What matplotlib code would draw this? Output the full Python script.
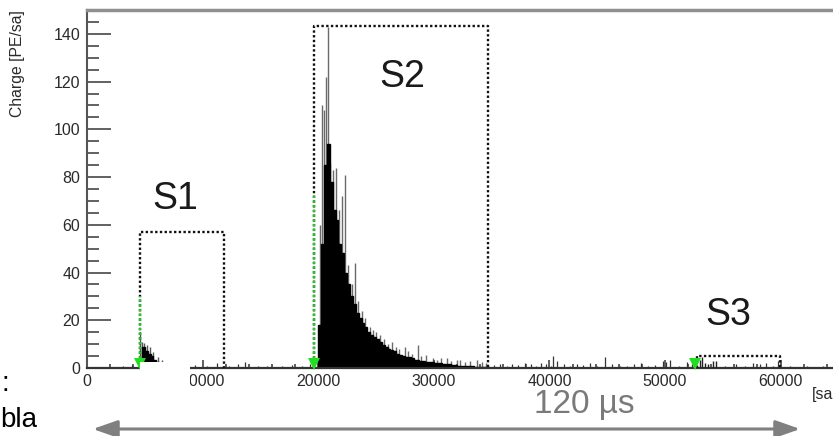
import matplotlib
matplotlib.use("Agg")
import matplotlib.pyplot as plt
from matplotlib.patches import Rectangle, FancyArrowPatch
import numpy as np

plt.rcParams['font.family'] = ['Liberation Sans', 'DejaVu Sans']

# ---------------- data ----------------
# S2 black envelope (bin starts, 250-sample bins)
s2_bin_start = 19750
s2_bin_width = 250
s2_env = [0, 18, 52, 85, 94, 78, 66, 62, 52, 48, 40, 35, 30, 27, 23, 21, 19, 17,
          15, 14, 13, 12, 11, 9.5, 9, 8, 7.5, 7, 6, 5.5, 5, 4.5, 4.5, 4, 3.5, 3.5,
          3, 3, 2.5, 2.5, 2.5, 2, 2, 2, 1.5, 1.5, 1.5, 1.2, 1.2, 1, 1, 1, 0.8,
          0.8, 0.7, 0.6, 0.6, 0.5, 0.5, 0.4, 0]
# S2 grey spikes
s2_spike_x = [20150, 20330, 20500, 20700, 20850, 21020, 21280, 21540, 21800, 22050,
              22300, 22580, 22900, 23180, 23450, 23790, 24050, 24480, 24700, 25000,
              25350, 25700, 26000, 26380, 26700, 27000, 27500, 27800, 28100, 28630,
              28900, 29300, 29930, 30300, 30600, 31140, 31500, 32000, 32260, 32700,
              33100, 33740, 34200, 34500]
s2_spike_y = [60, 110, 108, 122, 143, 86, 83, 84, 66, 72,
              81, 43, 35, 44, 28, 24, 21, 17, 16, 15,
              14, 12, 10, 11, 9, 8, 9, 7, 6, 9.6,
              5, 5.5, 4, 3.5, 4, 4, 3, 3.5, 3.4, 2.5,
              3, 3.4, 2.5, 2]
# S1 envelope and spikes
s1_bin_start = 4500
s1_bin_width = 250
s1_env = [0, 9, 7, 6, 5, 3.5, 2.5, 1.5, 1, 0]
s1_spike_x = [4600, 4750, 4900, 5150, 5450, 5750, 6100, 6500, 6900]
s1_spike_y = [15, 11, 10.5, 9.6, 8.8, 6.7, 4.6, 3.4, 2.5]
# S3 spikes
s3_spike_x = [52700, 53000, 53200, 53450, 53700, 54150, 54400]
s3_spike_y = [2.5, 3.5, 4.6, 2.0, 1.5, 3.0, 3.0]
# baseline noise spikes
noise_x = [1500, 3100, 3900, 7300, 8200, 9350, 10400, 11250, 12300, 13070,
           13670, 14800, 15600, 16900, 17700, 18600, 19300, 35200, 35700, 36300,
           36800, 37300, 37900, 38400, 38800, 39300, 39700, 40100, 40300, 40700,
           41300, 41800, 42400, 42900, 43500, 44100, 44800, 45400, 46100, 46700,
           47300, 47900, 48500, 49100, 49800, 50100, 50400, 51200, 51900, 52300,
           55200, 56100, 56900, 57600, 58200, 58700, 59300, 59800, 60800, 62300,
           63700]
noise_y = [0.6, 0.8, 1.2, 1.0, 0.8, 1.4, 0.7, 2.0, 0.9, 1.5,
           2.5, 0.8, 1.0, 0.7, 1.1, 0.9, 1.6, 1.2, 1.5, 1.0,
           1.8, 1.3, 2.0, 1.5, 1.0, 2.2, 1.7, 1.0, 5.0, 3.0,
           1.5, 1.0, 1.8, 1.2, 2.0, 1.0, 4.6, 1.5, 1.0, 0.8,
           1.6, 2.2, 1.0, 1.3, 3.0, 2.5, 3.2, 1.0, 2.5, 1.5,
           1.0, 1.5, 1.0, 2.0, 1.5, 2.2, 1.0, 3.0, 0.8, 1.0,
           1.0]

# signal windows
win_labels = ["S1", "S2", "S3"]
win_x0 = [4600, 19600, 52800]
win_x1 = [11850, 34700, 59950]
win_top = [57, 143.3, 5]
label_x = [7600, 27300, 55450]
label_y = [70.8, 122, 22.2]
green_x = [4600, 19600, 52600]
green_top = [30, 73, 3]

xticks = [0, 10000, 20000, 30000, 40000, 50000, 60000]
yticks = [0, 20, 40, 60, 80, 100, 120, 140]

# ---------------- figure ----------------
W, H = 833, 436
fig = plt.figure(figsize=(W / 100, H / 100), dpi=100)
left_px, bottom_px, top_px = 87, 368, 10
ax = fig.add_axes([left_px / W, (H - bottom_px) / H, (W - left_px) / W,
                   (bottom_px - top_px) / H])
ax.set_xlim(0, (W - left_px) / 115.6 * 10000)
ax.set_ylim(0, 150)

# grey spikes drawn first so the black body covers their lower part
ax.vlines(s2_spike_x, 0, s2_spike_y, color='#6a6a6a', lw=1.0, zorder=1.5)
ax.vlines(s1_spike_x, 0, s1_spike_y, color='#555555', lw=1.0, zorder=1.5)
# histogram bodies (single filled step paths)
edges2 = s2_bin_start + s2_bin_width * np.arange(len(s2_env) + 1)
ax.stairs(s2_env, edges2, fill=True, color='black', lw=0, zorder=2)
ax.stairs(s2_env, edges2, fill=False, color='black', lw=1.0, zorder=2)
edges1 = s1_bin_start + s1_bin_width * np.arange(len(s1_env) + 1)
ax.stairs(s1_env, edges1, fill=True, color='black', lw=0, zorder=2)
ax.stairs(s1_env, edges1, fill=False, color='black', lw=1.0, zorder=2)
ax.vlines(s3_spike_x, 0, s3_spike_y, color='#222222', lw=1.0, zorder=3)
ax.vlines(noise_x, 0, noise_y, color='#333333', lw=0.9, zorder=3)

# windows
for lab, x0, x1, t, lx, ly in zip(win_labels, win_x0, win_x1, win_top, label_x, label_y):
    ax.plot([x0, x0, x1, x1], [0, t, t, 0], color='#111111', lw=1.7,
            ls=(0, (1, 1)), zorder=4)
    ax.text(lx, ly, lab, fontsize=27, color='#1a1a1a', ha='center', va='center')
for gx, gt in zip(green_x, green_top):
    ax.plot([gx, gx], [0, gt], color='#22cc22', lw=1.7, ls=(0, (1, 1)), zorder=5)
    ax.plot([gx], [1.8], marker='v', color='#22dd22', ms=8, mew=0, zorder=6,
            clip_on=False)

# axes style
ax.spines['right'].set_visible(False)
ax.spines['top'].set_color('#909090')
ax.spines['top'].set_linewidth(2.5)
ax.spines['left'].set_color('#555555')
ax.spines['left'].set_linewidth(1.5)
ax.spines['bottom'].set_color('#333333')
ax.spines['bottom'].set_linewidth(1.6)

ax.set_xticks(xticks)
ax.set_xticklabels([str(v) for v in xticks])
ax.set_xticks(np.arange(0, 66000, 2000), minor=True)
ax.set_yticks(yticks)
ax.set_yticklabels([str(v) for v in yticks])
ax.set_yticks(np.arange(0, 151, 5), minor=True)
ax.tick_params(axis='y', which='major', direction='in', length=17, width=1.3,
               color='#555555', labelsize=11.5, labelcolor='#2a2a2a', pad=5)
ax.tick_params(axis='y', which='minor', direction='in', length=8.5, width=1.3,
               color='#555555')
ax.tick_params(axis='x', which='major', direction='in', length=5.8, width=1.2,
               color='#444444', labelsize=11.5, labelcolor='#2a2a2a', pad=4.3)
ax.tick_params(axis='x', which='minor', direction='in', length=3.2, width=1.2,
               color='#444444')
ax.tick_params(top=False, right=False)

# y label
fig.text(18 / W, 1 - 10 / H, 'Charge [PE/sa]', rotation=90, fontsize=11.3,
         color='#2a2a2a', ha='center', va='top')
# x label fragment visible at the edge
fig.text(812 / W, 1 - 395 / H, '[sa', fontsize=11.5, color='#2a2a2a',
         ha='left', va='center')

# white patch covering part of the axis
fig.patches.append(Rectangle((140 / W, 1 - 393 / H), 50 / W, 31 / H,
                             transform=fig.transFigure, facecolor='white',
                             edgecolor='none', zorder=10))

# slide text fragments
fig.text(2 / W, 1 - 391 / H, ':', fontsize=20, color='black', ha='left',
         va='baseline')
fig.text(0 / W, 1 - 427 / H, 'bla', fontsize=20, color='black', ha='left',
         va='baseline')

# 120 µs arrow
fig.text(584 / W, 1 - 404 / H, '120 µs', fontsize=24, color='#7a7a7a',
         ha='center', va='center')
fig.add_artist(FancyArrowPatch(
    (90 / W, 1 - 429 / H), (803 / W, 1 - 429 / H), transform=fig.transFigure,
    arrowstyle='<|-|>,head_length=10,head_width=3.5', color='#808080', lw=2.2,
    mutation_scale=1.5))

fig.savefig('out.png', dpi=100)
